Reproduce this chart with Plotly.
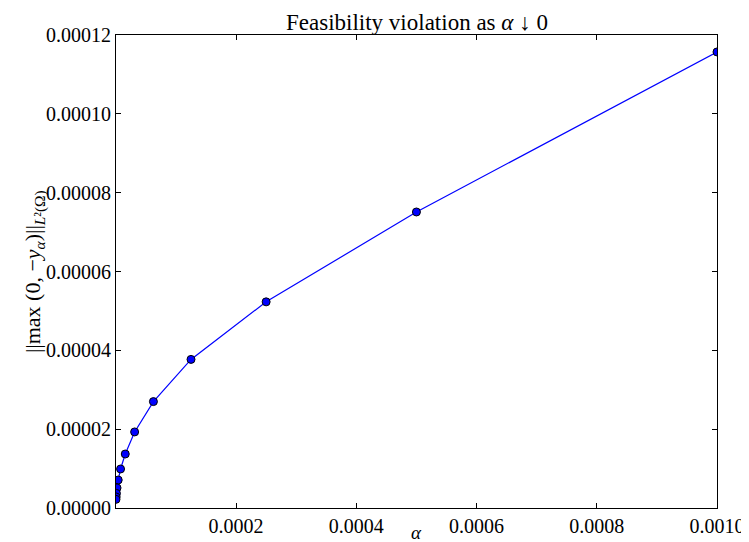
import plotly.graph_objects as go

alpha = [1e-3, 5e-4, 2.5e-4, 1.25e-4, 6.25e-5, 3.125e-5, 1.5625e-5,
         7.8125e-6, 3.90625e-6, 1.953125e-6, 9.765625e-7, 4.8828125e-7, 2.44140625e-7]
violation = [1.157e-4, 7.51e-5, 5.23e-5, 3.77e-5, 2.70e-5, 1.93e-5, 1.37e-5,
             9.9e-6, 7.1e-6, 5.1e-6, 3.7e-6, 2.8e-6, 2.2e-6]

x_ticks = [0.0002, 0.0004, 0.0006, 0.0008, 0.0010]
y_ticks = [0.0, 0.00002, 0.00004, 0.00006, 0.00008, 0.00010, 0.00012]

FONT = "Liberation Serif"
L, R, T, B = 108, 28, 27, 42
PW, PH = 749 - L - R, 542 - T - B

fig = go.Figure()
fig.add_trace(go.Scatter(
    x=alpha, y=violation, mode="lines+markers",
    line=dict(color="#0000ff", width=1.2),
    marker=dict(color="#0000ff", size=8, line=dict(color="black", width=1)),
    cliponaxis=True, showlegend=False,
))

axis_common = dict(
    showgrid=False, zeroline=False, showline=True, linecolor="black", linewidth=1,
    mirror="ticks", ticks="inside", ticklen=5, tickcolor="black", tickwidth=1,
    tickfont=dict(family=FONT, size=20, color="black"),
)

fig.update_xaxes(range=[min(alpha), 0.001], tickvals=x_ticks, tickformat=".4f", **axis_common)
fig.update_yaxes(range=[0, 0.00012], tickvals=y_ticks, tickformat=".5f", **axis_common)

fig.update_layout(
    width=749, height=542,
    margin=dict(l=L, r=R, t=T, b=B),
    plot_bgcolor="white", paper_bgcolor="white",
    font=dict(family=FONT, color="black"),
)

fig.add_annotation(text="Feasibility violation as <i>α</i> ↓ 0", xref="paper", yref="paper",
                   x=0.5, y=1 + (T - 1) / PH, xanchor="center", yanchor="top",
                   showarrow=False, borderpad=0,
                   font=dict(family=FONT, size=23, color="black"))
fig.add_annotation(text="<i>α</i>", xref="paper", yref="paper", x=0.5, y=-35 / PH,
                   showarrow=False, yanchor="bottom", borderpad=0, borderwidth=0,
                   font=dict(family=FONT, size=19))
fig.add_annotation(text="||max (0, −<i>y</i><sub><i>α</i></sub>)||<sub><i>L</i>²(Ω)</sub>",
                   xref="paper", yref="paper", x=-(L - 25) / PW, y=0.5, textangle=-90,
                   showarrow=False, xanchor="center", yanchor="middle",
                   font=dict(family=FONT, size=22))

fig.write_html("out.html")
